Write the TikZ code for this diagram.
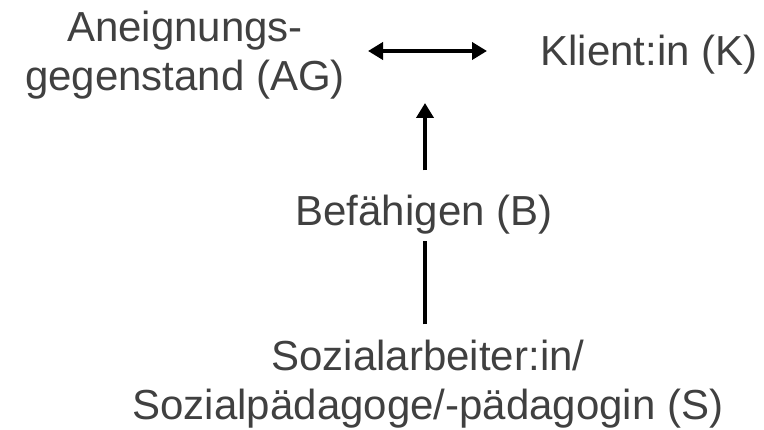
\documentclass[tikz,border=0pt]{standalone}
\usepackage{fontspec}
\setmainfont{Liberation Sans}
\usetikzlibrary{arrows.meta}
\definecolor{labelgray}{HTML}{404040}
\begin{document}
\begin{tikzpicture}[x=1pt,y=1pt,
  label text/.style={anchor=base, inner sep=0pt, text=labelgray,
    font=\fontsize{42}{49}\selectfont},
  link/.style={draw=black, line width=4pt, >={Triangle[width=17pt,length=15pt]}}]
  \useasboundingbox (0,0) rectangle (764,429);
  \setlength{\tabcolsep}{0pt}

  % concepts
  \node[label text] (AG) at (185,387)
    {\begin{tabular}[t]{c}Aneignungs-\\gegenstand (AG)\end{tabular}};
  \node[label text] (K) at (649,363) {Klient:in (K)};
  \node[label text] (B) at (424,203) {Befähigen (B)};
  \node[label text] (S) at (428,59)
    {\begin{tabular}[t]{c}Sozialarbeiter:in/\\Sozialpädagoge/-pädagogin (S)\end{tabular}};

  % end points of the relation between AG and K
  \coordinate (relL) at (368,378);
  \coordinate (relR) at (487,378);
  \coordinate (relB) at (425,326);

  % connectors
  \draw[link, <->] (relL) -- (relR);
  \draw[link, ->] ([yshift=25pt]B.north -| relB) -- (relB);
  \draw[link] ([yshift=11pt]S.north -| relB) -- ([yshift=-6pt]B.south -| relB);
\end{tikzpicture}
\end{document}
